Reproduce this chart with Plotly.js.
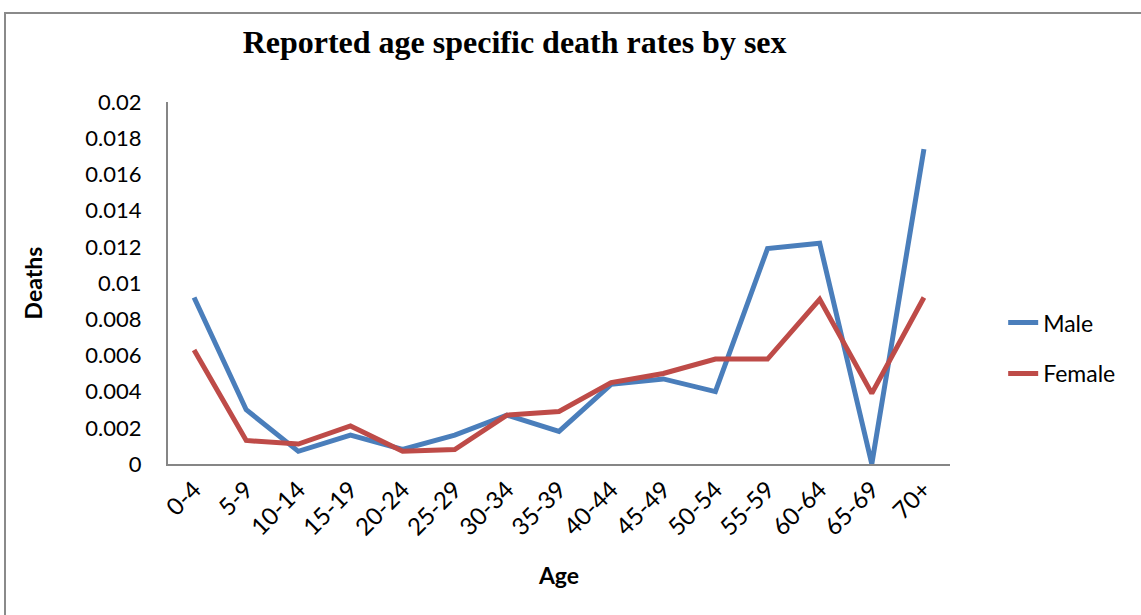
<!DOCTYPE html>
<html>
<head>
<meta charset="utf-8">
<script src="https://cdn.plot.ly/plotly-3.0.1.min.js"></script>
<style>
  html, body { margin: 0; padding: 0; background: #fff; overflow: hidden; }
  #chart { position: absolute; left: 0; top: 0; width: 1141px; height: 615px; }
  #frame { position: absolute; left: 4px; top: 12px; width: 1200px; height: 700px;
           border: 2px solid #8a8a8a; box-sizing: border-box; pointer-events: none; }
</style>
</head>
<body>
<div id="chart"></div>
<div id="frame"></div>
<script>
// Age groups on the horizontal axis
const ageGroups = ["0-4", "5-9", "10-14", "15-19", "20-24", "25-29", "30-34", "35-39",
                   "40-44", "45-49", "50-54", "55-59", "60-64", "65-69", "70+"];

// Reported age specific death rates
const maleRates = [0.0092, 0.0030, 0.0007, 0.0016, 0.0008, 0.0016, 0.0027, 0.0018,
                   0.0044, 0.0047, 0.0040, 0.0119, 0.0122, 0.0000, 0.0174];
const femaleRates = [0.0063, 0.0013, 0.0011, 0.0021, 0.0007, 0.0008, 0.0027, 0.0029,
                     0.0045, 0.0050, 0.0058, 0.0058, 0.0091, 0.0039, 0.0092];

const sans = "Lato, 'Noto Sans', sans-serif";
const tickFont = { family: sans, size: 22, color: "#000" };

const traces = [
  { x: ageGroups, y: maleRates, name: "Male", type: "scatter", mode: "lines",
    legendgroup: "m", line: { color: "#4A7EBB", width: 5 } },
  { x: ageGroups, y: femaleRates, name: "Female", type: "scatter", mode: "lines",
    legendgroup: "f", line: { color: "#BE4B48", width: 5 } }
];

const layout = {
  width: 1141, height: 615,
  margin: { l: 168, r: 191, t: 102, b: 151 },
  paper_bgcolor: "#fff", plot_bgcolor: "#fff",
  title: {
    text: "Reported age specific death rates by sex",
    font: { family: "'Liberation Serif', 'Times New Roman', serif", size: 32, color: "#000", weight: "bold" },
    xref: "container", yref: "container", x: 0.451, y: 0.932, xanchor: "center", yanchor: "middle"
  },
  xaxis: {
    type: "category", range: [-0.5, 14.5],
    showline: true, linecolor: "#868686", linewidth: 2, showgrid: false, zeroline: false,
    ticks: "", tickangle: -45, tickfont: { ...tickFont, size: 24 },
    title: { text: "Age", font: { family: sans, size: 23, color: "#000", weight: "bold" }, standoff: 28 }
  },
  yaxis: {
    range: [0, 0.02], dtick: 0.002, tick0: 0,
    showline: true, linecolor: "#868686", linewidth: 2, showgrid: false, zeroline: false,
    ticks: "", ticklabelstandoff: 20, tickfont: tickFont,
    title: { text: "Deaths", font: { family: sans, size: 23, color: "#000", weight: "bold" }, standoff: 36 }
  },
  legend: {
    x: 1.068, y: 0.32, xanchor: "left", yanchor: "middle",
    font: { family: sans, size: 23, color: "#000" },
    tracegroupgap: 18, bgcolor: "rgba(0,0,0,0)"
  },
  showlegend: true
};

Plotly.newPlot("chart", traces, layout, { staticPlot: true, displayModeBar: false });
</script>
</body>
</html>
